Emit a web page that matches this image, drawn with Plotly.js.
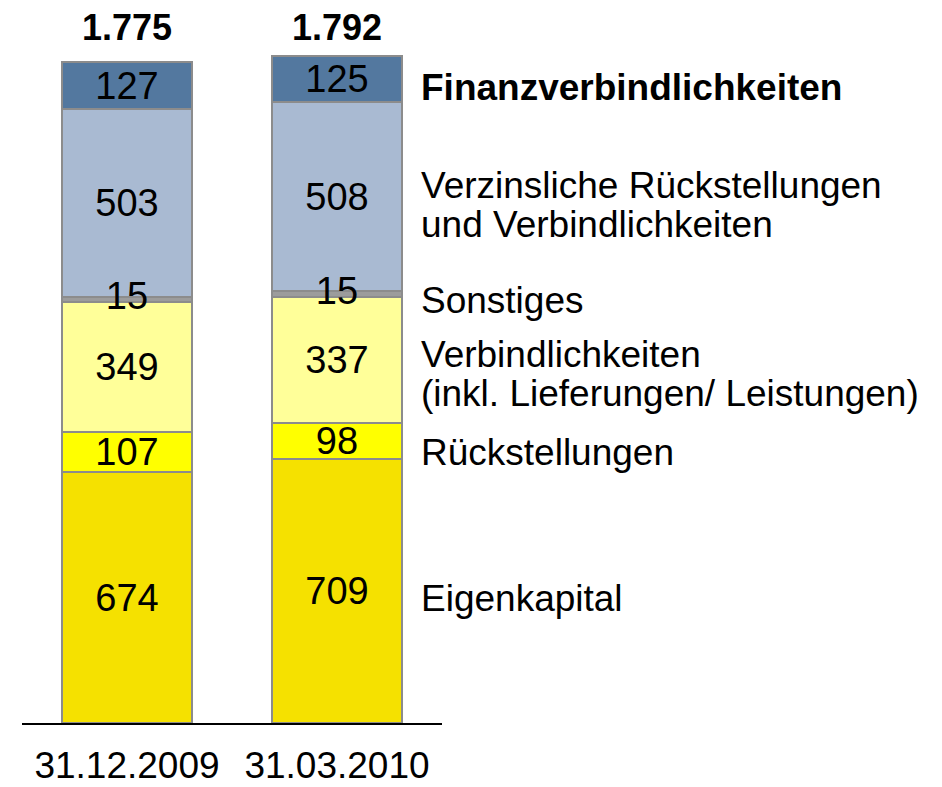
<!DOCTYPE html>
<html>
<head>
<meta charset="utf-8">
<script src="https://cdn.plot.ly/plotly-3.0.1.min.js"></script>
<style>html,body{margin:0;padding:0;background:#fff;}#chart{width:942px;height:787px;}</style>
</head>
<body>
<div id="chart"></div>
<script>
// ---- data ----
var categories = ['31.12.2009', '31.03.2010'];
var eigenkapital = [674, 709];
var rueckstellungen = [107, 98];
var verbindlichkeiten = [349, 337];
var sonstiges = [15, 15];
var verzinslich = [503, 508];
var finanz = [127, 125];
var seriesNames = ['Eigenkapital', 'Rückstellungen', 'Verbindlichkeiten (inkl. Lieferungen/ Leistungen)', 'Sonstiges', 'Verzinsliche Rückstellungen und Verbindlichkeiten', 'Finanzverbindlichkeiten'];

// ---- styles ----
var FONT = '"Liberation Sans", Arial, sans-serif';
var colors = ['#F5E100', '#FFFF00', '#FFFF99', '#9C9C9C', '#A9BAD2', '#53789F'];
var seriesData = [eigenkapital, rueckstellungen, verbindlichkeiten, sonstiges, verzinslich, finanz];
var SONST = 3; // index of thin segment whose label sits above neighbours

var traces = seriesData.map(function (vals, i) {
  var t = {
    type: 'bar',
    name: seriesNames[i],
    x: categories,
    y: vals,
    marker: {color: colors[i], line: {color: '#8C8C8C', width: 2}},
    hoverinfo: 'skip'
  };
  if (i !== SONST) {
    t.text = vals.map(String);
    t.texttemplate = '%{text}';
    t.textposition = 'inside';
    t.insidetextanchor = 'middle';
    t.constraintext = 'none';
    t.textangle = 0;
    t.insidetextfont = {family: FONT, size: 38, color: '#000'};
  } else {
    t.textposition = 'none';
  }
  return t;
});

// label for the thin segment, drawn on top via a text-only scatter trace
var sonstBase = categories.map(function (c, j) {
  return eigenkapital[j] + rueckstellungen[j] + verbindlichkeiten[j];
});
traces.push({
  type: 'scatter',
  mode: 'text',
  x: categories,
  y: sonstiges.map(function (v, j) { return sonstBase[j] + v / 2; }),
  text: sonstiges.map(String),
  textposition: 'middle center',
  textfont: {family: FONT, size: 38, color: '#000'},
  hoverinfo: 'skip',
  showlegend: false,
  cliponaxis: false
});

function fmtDE(n) {
  return String(n).replace(/\B(?=(\d{3})+(?!\d))/g, '.');
}
var totals = categories.map(function (c, j) {
  return seriesData.reduce(function (s, arr) { return s + arr[j]; }, 0);
});

var annotations = [];
categories.forEach(function (c, j) {
  annotations.push({
    x: c, xref: 'x', y: 0.99, yref: 'paper',
    text: '<b>' + fmtDE(totals[j]) + '</b>',
    showarrow: false, xanchor: 'center', yanchor: 'middle',
    font: {family: FONT, size: 36, color: '#000'}
  });
});

var rightLabels = [
  {t: '<b>Finanzverbindlichkeiten</b>', y: 0.9035},
  {t: 'Verzinsliche Rückstellungen', y: 0.7645},
  {t: 'und Verbindlichkeiten', y: 0.7084},
  {t: 'Sonstiges', y: 0.6017},
  {t: 'Verbindlichkeiten', y: 0.5240},
  {t: '(inkl. Lieferungen/ Leistungen)', y: 0.4680},
  {t: 'Rückstellungen', y: 0.3841},
  {t: 'Eigenkapital', y: 0.1778}
];
rightLabels.forEach(function (l) {
  annotations.push({
    x: 0.945, xref: 'paper', y: l.y, yref: 'paper',
    text: l.t, showarrow: false, xanchor: 'left', yanchor: 'middle',
    font: {family: FONT, size: 37, color: '#000'}
  });
});

var layout = {
  width: 942, height: 787,
  margin: {l: 22, r: 500, t: 20, b: 64, pad: 0},
  paper_bgcolor: '#fff', plot_bgcolor: '#fff',
  barmode: 'stack',
  bargap: 0.385,
  showlegend: false,
  font: {family: FONT, color: '#000'},
  xaxis: {
    type: 'category',
    range: [-0.5, 1.5],
    showline: true, linecolor: '#000', linewidth: 1.5,
    showgrid: false, zeroline: false, ticks: '',
    tickfont: {family: FONT, size: 37, color: '#000'},
    ticklabelstandoff: 9,
    fixedrange: true
  },
  yaxis: {
    range: [0, 1888],
    visible: false, showgrid: false, zeroline: false,
    fixedrange: true
  },
  annotations: annotations
};

Plotly.newPlot('chart', traces, layout, {displayModeBar: false, staticPlot: true});
</script>
</body>
</html>
